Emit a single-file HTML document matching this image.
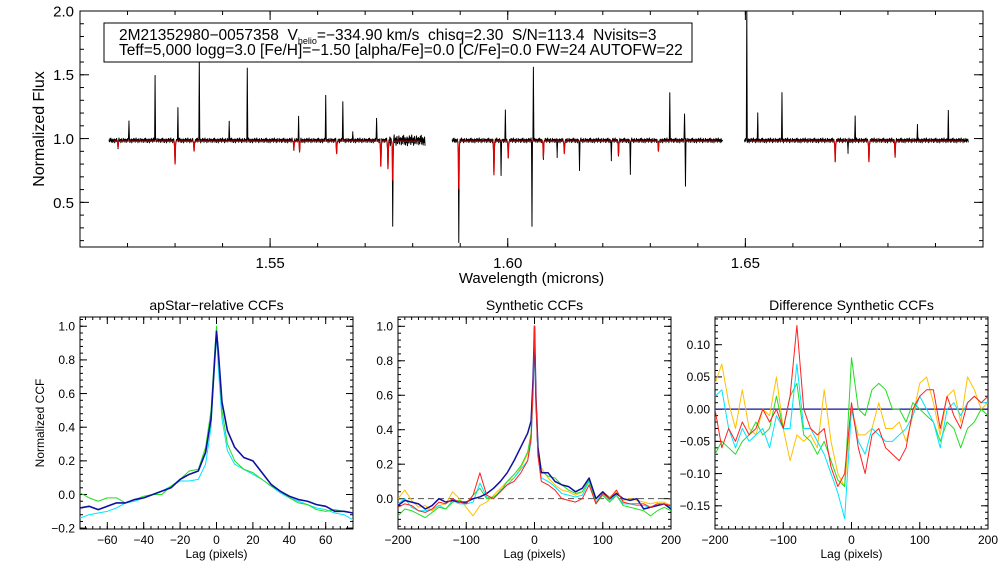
<!DOCTYPE html>
<html><head><meta charset="utf-8"><style>
html,body{margin:0;padding:0;background:#fff;}
svg{display:block;font-family:"Liberation Sans",sans-serif;}
.pre{white-space:pre;}
</style></head><body>
<svg id="c" width="1008" height="576" viewBox="0 0 1008 576" xmlns="http://www.w3.org/2000/svg">
<rect x="0" y="0" width="1008" height="576" fill="#fff"/>
<g id="spec"></g>
<g id="p1"></g>
<g id="p2"></g>
<g id="p3"></g>
<g>
<rect x="104" y="23" width="588" height="39" fill="#fff" stroke="#000" stroke-width="1"/>
<text class="pre" x="119" y="40" font-size="15.5">2M21352980−0057358  V<tspan font-size="9" dy="4">helio</tspan><tspan dy="-4">=−334.90 km/s  chisq=2.30  S/N=113.4  Nvisits=3</tspan></text>
<text class="pre" x="119" y="55" font-size="15.5">Teff=5,000 logg=3.0 [Fe/H]=−1.50 [alpha/Fe]=0.0 [C/Fe]=0.0 FW=24 AUTOFW=22</text>
</g>
</svg>
<script>
// ---- spectrum data ----
const specChunks=[[1.5161,1.5826],[1.5883,1.6452],[1.6498,1.6969]];
const emisWl=[1.5203,1.5258,1.5306,1.5351,1.5414,1.5452,1.5560,1.5617,1.5653,1.5674,1.5724,1.5995,1.6054,1.6104,1.6151,1.6218,1.6258,1.6341,1.6372,1.6503,1.6526,1.6577,1.6716,1.6731,1.6862,1.6927];
const emisPeak=[1.15,1.50,1.25,1.62,1.14,1.56,1.18,1.35,1.30,1.30,1.17,1.22,1.56,1.28,1.49,1.19,1.57,1.36,1.21,2.3,1.20,1.37,1.24,1.18,1.11,1.22];
const dipWl=[1.6051,1.6151,1.6258,1.6104,1.5986,1.6218,1.6374,1.6716,1.6503,1.5674,1.5758,1.5897];
const dipVal=[0.33,0.28,0.17,0.60,0.73,0.67,0.66,0.67,0.74,0.75,0.65,0.59];
const modelWl=[1.5300,1.5897,1.5971,1.5758,1.5748,1.5733,1.5340,1.6119,1.6317,1.6689,1.6760,1.6815,1.6075,1.6233,1.5640,1.5562,1.6001,1.5180,1.5550];
const modelDepth=[0.18,0.38,0.26,0.31,0.22,0.20,0.08,0.10,0.08,0.16,0.16,0.12,0.13,0.11,0.10,0.08,0.13,0.05,0.06];
const noisePattern=[0.012,-0.018,0.025,-0.006,0.031,-0.022,0.004,0.017,-0.027,0.009,-0.012,0.021,-0.031,0.014,0.002,-0.016,0.028,-0.009,0.019,-0.024,0.006,0.033,-0.013,-0.004,0.015,-0.029,0.011,0.024,-0.019,0.003,-0.008,0.027,-0.021,0.013,-0.002,0.018,-0.026];

// ---- CCF data ----
const lag1=[-75,-70,-65,-60,-55,-50,-45,-40,-35,-30,-25,-20,-15,-10,-6,-3,-1,0,1,3,6,10,15,20,25,30,35,40,45,50,55,60,65,70,75];
const ccf1Navy=[-0.08,-0.07,-0.09,-0.07,-0.05,-0.05,-0.03,-0.02,0.0,0.02,0.04,0.09,0.12,0.14,0.25,0.45,0.8,0.97,0.85,0.55,0.38,0.28,0.22,0.2,0.13,0.06,0.02,-0.01,-0.03,-0.04,-0.06,-0.07,-0.1,-0.1,-0.11];
const ccf1Cyan=[-0.14,-0.12,-0.11,-0.1,-0.08,-0.05,-0.04,-0.02,0.0,0.02,0.05,0.08,0.08,0.09,0.18,0.4,0.8,0.95,0.75,0.45,0.26,0.18,0.15,0.12,0.09,0.05,0.01,-0.02,-0.04,-0.06,-0.08,-0.09,-0.11,-0.12,-0.15];
const ccf1Green=[0.01,-0.02,-0.04,-0.02,-0.02,-0.05,-0.03,-0.01,0.0,0.0,0.05,0.09,0.14,0.15,0.28,0.5,0.85,1.0,0.85,0.5,0.3,0.2,0.15,0.13,0.09,0.05,0.02,-0.02,-0.05,-0.06,-0.09,-0.1,-0.09,-0.1,-0.11];

const lag2=[-200,-190,-180,-170,-160,-150,-140,-130,-120,-110,-100,-90,-80,-70,-60,-50,-40,-30,-20,-10,-5,-2,0,2,5,10,20,30,40,50,60,70,80,90,100,110,120,130,140,150,160,170,180,190,200];
const ccf2Navy=[-0.04,-0.01,-0.02,-0.03,-0.06,-0.04,0.0,-0.02,-0.01,-0.02,-0.02,0.0,0.01,0.03,0.06,0.1,0.15,0.22,0.3,0.38,0.45,0.7,1.0,0.6,0.3,0.15,0.15,0.1,0.08,0.07,0.04,0.06,0.12,0.0,0.04,0.0,0.03,0.0,-0.01,0.0,-0.06,-0.05,-0.04,-0.03,-0.06];
const ccf2Red=[-0.05,-0.03,-0.04,-0.07,-0.08,-0.06,-0.02,-0.03,0.0,-0.02,-0.03,0.02,0.15,0.02,0.0,0.04,0.08,0.1,0.15,0.22,0.35,0.65,1.0,0.6,0.25,0.1,0.08,0.05,0.0,-0.01,-0.02,0.0,0.08,-0.03,0.03,0.0,0.05,-0.02,-0.03,-0.03,-0.03,-0.05,-0.03,-0.03,-0.04];
const ccf2Cyan=[-0.03,0.0,-0.05,-0.07,-0.07,-0.06,-0.04,-0.06,-0.01,-0.03,-0.03,-0.02,0.09,0.01,0.0,0.05,0.08,0.12,0.17,0.22,0.33,0.6,0.96,0.55,0.25,0.12,0.1,0.07,0.03,0.02,0.01,0.02,0.1,-0.02,0.03,-0.01,0.02,-0.03,-0.03,-0.04,-0.04,-0.05,-0.03,-0.03,-0.05];
const ccf2Green=[-0.1,-0.06,-0.07,-0.09,-0.11,-0.08,-0.05,-0.06,-0.02,-0.01,-0.03,0.02,0.06,0.0,0.01,0.04,0.1,0.14,0.19,0.27,0.38,0.66,0.95,0.6,0.3,0.16,0.13,0.12,0.08,0.05,0.03,0.04,0.11,-0.03,0.02,-0.02,0.02,-0.04,-0.05,-0.06,-0.07,-0.1,-0.07,-0.05,-0.07];
const ccf2Yellow=[0.0,0.05,-0.01,-0.05,-0.04,-0.07,-0.04,-0.03,0.04,0.0,-0.05,-0.1,-0.04,-0.02,0.02,0.06,0.1,0.12,0.18,0.26,0.38,0.68,0.99,0.6,0.3,0.18,0.12,0.08,0.05,0.04,0.02,0.04,0.1,-0.02,0.04,0.01,0.04,-0.01,0.0,-0.01,-0.02,-0.03,-0.02,-0.02,-0.04];

const lag3=[-200,-190,-180,-170,-160,-150,-140,-130,-120,-110,-100,-90,-80,-70,-60,-50,-40,-30,-20,-10,0,10,20,30,40,50,60,70,80,90,100,110,120,130,140,150,160,170,180,190,200];
const dRed=[0.0,-0.06,-0.03,-0.05,-0.02,-0.04,-0.03,0.0,-0.02,0.0,-0.03,0.02,0.13,0.0,-0.03,-0.04,-0.03,-0.09,-0.12,-0.1,0.01,-0.06,-0.1,-0.04,-0.03,-0.06,-0.07,-0.08,-0.06,0.0,0.02,0.03,0.03,-0.03,0.02,-0.01,-0.03,0.01,0.02,0.01,0.02];
const dYellow=[0.04,0.07,0.01,-0.03,0.03,-0.03,-0.04,0.0,-0.01,0.05,-0.03,-0.08,-0.04,-0.05,-0.04,-0.06,0.03,-0.05,-0.1,-0.12,0.0,-0.04,-0.04,-0.03,0.01,-0.03,-0.03,-0.02,-0.05,-0.01,0.04,0.05,0.01,-0.04,0.02,0.03,-0.02,0.05,0.03,0.0,0.01];
const dCyan=[0.02,0.03,-0.03,-0.06,-0.03,-0.05,-0.04,-0.03,-0.06,-0.01,-0.03,-0.03,0.07,-0.03,-0.03,-0.05,-0.07,-0.1,-0.13,-0.17,0.0,-0.05,-0.07,-0.03,-0.04,-0.05,-0.05,-0.04,-0.03,-0.01,0.02,0.0,-0.02,-0.06,0.0,0.01,-0.01,0.01,0.02,0.01,0.01];
const dGreen=[-0.07,-0.05,-0.06,-0.07,-0.05,-0.04,-0.02,-0.04,-0.03,0.02,-0.03,0.02,0.04,-0.04,-0.05,-0.07,-0.05,-0.08,-0.11,-0.12,0.08,0.0,-0.01,0.03,0.04,0.03,0.0,0.0,-0.02,0.01,0.0,-0.01,-0.02,-0.05,-0.02,-0.03,-0.06,-0.03,-0.02,0.0,-0.01];

const NS='http://www.w3.org/2000/svg';
function mk(parent,tag,attrs){const e=document.createElementNS(NS,tag);for(const k in attrs)e.setAttribute(k,attrs[k]);parent.appendChild(e);return e;}
function scale(d0,d1,r0,r1){return v=>r0+(v-d0)*(r1-r0)/(d1-d0);}

function axes(g,box,sx,sy,xr,yr,o){
  const [L,T,R,B]=box;
  const fs=o.fs;
  function tickSet(vals,len,isX){
    for(const v of vals){
      if(isX){const x=sx(v);
        const t1=mk(g,'line',{x1:x,y1:B,x2:x,y2:B-len,stroke:'#000','stroke-width':1});
        
        
        const t2=mk(g,'line',{x1:x,y1:T,x2:x,y2:T+len,stroke:'#000','stroke-width':1});
        
        
      }else{const y=sy(v);
        const t1=mk(g,'line',{x1:L,y1:y,x2:L+len,y2:y,stroke:'#000','stroke-width':1});
        
        
        const t2=mk(g,'line',{x1:R,y1:y,x2:R-len,y2:y,stroke:'#000','stroke-width':1});
        
        
      }
    }
  }
  function range(a,b,s){const r=[];for(let v=a;v<=b+s*1e-6;v+=s)r.push(Math.round(v/s)*s);return r;}
  const xminor=range(Math.ceil(xr[0]/o.xm)*o.xm,xr[1],o.xm).filter(v=>v>xr[0]&&v<xr[1]);
  const yminor=range(Math.ceil(yr[0]/o.ym)*o.ym,yr[1],o.ym).filter(v=>v>yr[0]&&v<yr[1]);
  tickSet(xminor,o.minLen,true);tickSet(yminor,o.minLen,false);
  tickSet(o.xt,o.majLen,true);tickSet(o.yt,o.majLen,false);
  o.xt.forEach((v,i)=>{const t=mk(g,'text',{x:sx(v),y:B+o.xlabOff,'font-size':fs,'text-anchor':'middle'});t.textContent=o.xtl[i];
    
    });
  o.yt.forEach((v,i)=>{const t=mk(g,'text',{x:L-o.ylabOff,y:sy(v)+fs*0.36,'font-size':fs,'text-anchor':'end'});t.textContent=o.ytl[i];
    
    });
  const fr=mk(g,'rect',{x:L,y:T,width:R-L,height:B-T,fill:'none',stroke:'#000','stroke-width':1});
  
  
  if(o.xlabel){const t=mk(g,'text',{x:(L+R)/2,y:o.xlabY,'font-size':o.xlfs,'text-anchor':'middle'});t.textContent=o.xlabel;
    
    }
  if(o.ylabel){const yc=(T+B)/2;const t=mk(g,'text',{x:o.ylabX,y:yc,'font-size':o.ylfs,'text-anchor':'middle',transform:`rotate(-90 ${o.ylabX} ${yc})`});t.textContent=o.ylabel;
    
    }
  if(o.title){const t=mk(g,'text',{x:(L+R)/2,y:T-7,'font-size':14,'text-anchor':'middle'});t.textContent=o.title;
    
    }
}

function line(g,xs,ys,sx,sy,color,name,w,clip){
  const pts=xs.map((x,i)=>sx(x).toFixed(2)+','+sy(ys[i]).toFixed(2)).join(' ');
  const p=mk(g,'polyline',{points:pts,fill:'none',stroke:color,'stroke-width':w||1,'stroke-linejoin':'round'});
  if(clip)p.setAttribute('clip-path',clip);
  
  
  return p;
}

// ---- spectrum panel ----
(function(){
  const g=document.getElementById('spec');
  const box=[80,11,983,247];
  const sx=scale(1.51,1.70,80,983), sy=scale(0.15,2.0,247,11);
  const defs=mk(g,'defs',{});const cp=mk(defs,'clipPath',{id:'clipS'});mk(cp,'rect',{x:80,y:11,width:903,height:236});
  function model(w){let m=0.98;for(let i=0;i<modelWl.length;i++){const d=(w-modelWl[i])/0.00009;m-=modelDepth[i]*Math.exp(-d*d);}return m;}
  specChunks.forEach((ch,ci)=>{
    let ws=[];for(let w=ch[0];w<=ch[1];w+=0.0001)ws.push(w);
    emisWl.concat(dipWl).forEach(w=>{if(w>=ch[0]&&w<=ch[1])ws.push(w);});
    ws.sort((a,b)=>a-b);
    const obs=ws.map((w,i)=>{
      let n=0.6*noisePattern[i%noisePattern.length];
      if(w>1.575&&w<1.583)n*=2.2;
      let v=model(w)+0.005+n;
      for(let k=0;k<emisWl.length;k++){const d=Math.abs(w-emisWl[k]);if(d<0.00006)v+=(emisPeak[k]-1)*(1-d/0.00006);}
      for(let k=0;k<dipWl.length;k++){const d=Math.abs(w-dipWl[k]);if(d<0.00006)v-=(1-dipVal[k])*(1-d/0.00006);}
      return v;});
    line(g,ws,obs,sx,sy,'#000','observed-spectrum-'+ci,1,'url(#clipS)');
    const mw=[];for(let w=ch[0]+0.001;w<=ch[1]-0.001;w+=0.00003)mw.push(w);
    line(g,mw,mw.map(model),sx,sy,'#e00000','model-spectrum-'+ci,1.1,'url(#clipS)');
  });
  axes(g,box,sx,sy,[1.51,1.70],[0.15,2.0],{fs:15,xm:0.01,ym:0.1,minLen:4,majLen:9,
    xt:[1.55,1.60,1.65],xtl:['1.55','1.60','1.65'],yt:[0.5,1.0,1.5,2.0],ytl:['0.5','1.0','1.5','2.0'],
    xlabOff:21,ylabOff:6,xlabel:'Wavelength (microns)',xlabY:283,xlfs:15,ylabel:'Normalized Flux',ylabX:44,ylfs:16});
})();

// ---- CCF panels ----
(function(){
  const g=document.getElementById('p1');
  const box=[80,317,353,529];
  const sx=scale(-75,75,80,353), sy=scale(-0.205,1.055,529,317);
  axes(g,box,sx,sy,[-75,75],[-0.205,1.055],{fs:12,xm:4,ym:0.04,minLen:3,majLen:7,
    xt:[-60,-40,-20,0,20,40,60],xtl:['−60','−40','−20','0','20','40','60'],
    yt:[-0.2,0,0.2,0.4,0.6,0.8,1.0],ytl:['−0.2','0.0','0.2','0.4','0.6','0.8','1.0'],
    xlabOff:15,ylabOff:5,xlabel:'Lag (pixels)',xlabY:558,xlfs:12,ylabel:'Normalized CCF',ylabX:44,ylfs:12,title:'apStar−relative CCFs'});
  const defs=mk(g,'defs',{});const cp=mk(defs,'clipPath',{id:'clip1'});mk(cp,'rect',{x:80,y:317,width:273,height:212});
  line(g,lag1,ccf1Cyan,sx,sy,'#00e5ff','ccf1-cyan',1,'url(#clip1)');
  line(g,lag1,ccf1Green,sx,sy,'#22dd22','ccf1-green',1,'url(#clip1)');
  line(g,lag1,ccf1Navy,sx,sy,'#1010a0','ccf1-navy',1.6,'url(#clip1)');
})();
(function(){
  const g=document.getElementById('p2');
  const box=[398,317,671,529];
  const sx=scale(-200,200,398,671), sy=scale(-0.176,1.054,529,317);
  axes(g,box,sx,sy,[-200,200],[-0.176,1.054],{fs:12,xm:10,ym:0.04,minLen:3,majLen:7,
    xt:[-200,-100,0,100,200],xtl:['−200','−100','0','100','200'],
    yt:[0,0.2,0.4,0.6,0.8,1.0],ytl:['0.0','0.2','0.4','0.6','0.8','1.0'],
    xlabOff:15,ylabOff:5,xlabel:'Lag (pixels)',xlabY:558,xlfs:12,title:'Synthetic CCFs'});
  const z=mk(g,'line',{x1:398,x2:671,y1:sy(0),y2:sy(0),stroke:'#555','stroke-width':1,'stroke-dasharray':'6,4'});
  
  
  const defs=mk(g,'defs',{});const cp=mk(defs,'clipPath',{id:'clip2'});mk(cp,'rect',{x:398,y:317,width:273,height:212});
  line(g,lag2,ccf2Yellow,sx,sy,'#ffc000','ccf2-yellow',1,'url(#clip2)');
  line(g,lag2,ccf2Cyan,sx,sy,'#00e5ff','ccf2-cyan',1,'url(#clip2)');
  line(g,lag2,ccf2Green,sx,sy,'#22dd22','ccf2-green',1,'url(#clip2)');
  line(g,lag2,ccf2Navy,sx,sy,'#1010a0','ccf2-navy',1.5,'url(#clip2)');
  line(g,lag2,ccf2Red,sx,sy,'#ff2020','ccf2-red',1,'url(#clip2)');
})();
(function(){
  const g=document.getElementById('p3');
  const box=[715,317,988,529];
  const sx=scale(-200,200,715,988), sy=scale(-0.186,0.143,529,317);
  axes(g,box,sx,sy,[-200,200],[-0.186,0.143],{fs:12,xm:10,ym:0.01,minLen:3,majLen:7,
    xt:[-200,-100,0,100,200],xtl:['−200','−100','0','100','200'],
    yt:[-0.15,-0.1,-0.05,0,0.05,0.1],ytl:['−0.15','−0.10','−0.05','0.00','0.05','0.10'],
    xlabOff:15,ylabOff:5,xlabel:'Lag (pixels)',xlabY:558,xlfs:12,title:'Difference Synthetic CCFs'});
  const z=mk(g,'line',{x1:715,x2:988,y1:sy(0),y2:sy(0),stroke:'#1010a0','stroke-width':1.2});
  
  
  const defs=mk(g,'defs',{});const cp=mk(defs,'clipPath',{id:'clip3'});mk(cp,'rect',{x:715,y:317,width:273,height:212});
  line(g,lag3,dYellow,sx,sy,'#ffc000','diff-yellow',1,'url(#clip3)');
  line(g,lag3,dGreen,sx,sy,'#22dd22','diff-green',1,'url(#clip3)');
  line(g,lag3,dCyan,sx,sy,'#00e5ff','diff-cyan',1,'url(#clip3)');
  line(g,lag3,dRed,sx,sy,'#ff2020','diff-red',1,'url(#clip3)');
})();
</script>
</body></html>
